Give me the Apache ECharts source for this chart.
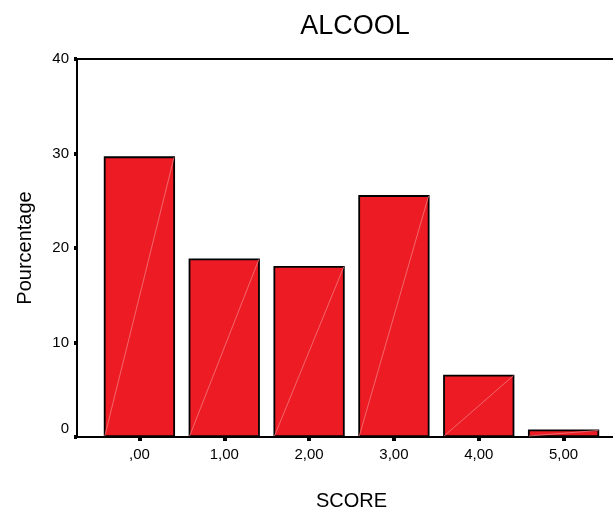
<!DOCTYPE html>
<html>
<head>
<meta charset="utf-8">
<script src="https://cdn.jsdelivr.net/npm/echarts@6/dist/echarts.min.js"></script>
<style>html,body{margin:0;padding:0;background:#fff}#c{width:613px;height:512px}</style>
</head>
<body>
<div id="c"></div>
<script>
var categories = [',00', '1,00', '2,00', '3,00', '4,00', '5,00'];
var values = [29.7, 18.9, 18.1, 25.6, 6.6, 0.8];
var yTicks = [0, 10, 20, 30, 40];
var titleText = 'ALCOOL';
var xName = 'SCORE';
var yName = 'Pourcentage';

var FONT = 'Liberation Sans, Arial, sans-serif';
var BAR_FRAC = 0.84;
var chart = echarts.init(document.getElementById('c'));
chart.setOption({
  animation: false,
  backgroundColor: '#fff',
  title: {
    text: titleText, left: 350, top: 8, textAlign: 'center',
    textStyle: {fontFamily: FONT, fontWeight: 'normal', fontSize: 27, color: '#000'}
  },
  grid: [
    {left: 97, right: 7, top: 59, bottom: 75, outerBoundsMode: 'none', containLabel: false},
    {left: 77, right: -3, top: 59, bottom: 75, outerBoundsMode: 'none', containLabel: false,
     show: true, borderColor: '#000', borderWidth: 2, backgroundColor: 'transparent'}
  ],
  xAxis: [{
    type: 'category', data: categories, gridIndex: 0,
    name: xName, nameLocation: 'middle', nameGap: 54,
    nameTextStyle: {fontFamily: FONT, fontSize: 20, color: '#000'},
    axisLine: {show: false},
    axisTick: {show: true, alignWithLabel: true, length: 4, lineStyle: {width: 4, color: '#000'}},
    axisLabel: {fontFamily: FONT, fontSize: 15, color: '#000', margin: 10}
  }, {
    type: 'value', gridIndex: 1, show: false
  }],
  yAxis: [{
    type: 'value', gridIndex: 0, min: 0, max: 40, interval: 10, offset: 20,
    name: yName, nameLocation: 'middle', nameGap: 42,
    nameTextStyle: {fontFamily: FONT, fontSize: 20, color: '#000'},
    axisLine: {show: false},
    axisTick: {show: true, length: 3, lineStyle: {width: 4, color: '#000'}},
    axisLabel: {fontFamily: FONT, fontSize: 15, color: '#000', margin: 8,
      formatter: function (v) {
        if (yTicks.indexOf(v) < 0) return '';
        return v === 0 ? '{z|0}' : String(v);
      },
      rich: {z: {fontFamily: FONT, fontSize: 15, color: '#000', padding: [0, 0, 16, 0]}}},
    splitLine: {show: false}
  }, {
    type: 'value', gridIndex: 1, show: false
  }],
  series: [{
    type: 'bar', data: values, xAxisIndex: 0, yAxisIndex: 0,
    barWidth: (BAR_FRAC * 100) + '%',
    itemStyle: {color: '#ED1C24', borderColor: '#000', borderWidth: 1.8},
    z: 2
  }, {
    type: 'custom', xAxisIndex: 0, yAxisIndex: 0, z: 3,
    data: values.map(function (v, i) { return [i, v]; }),
    renderItem: function (params, api) {
      var i = api.value(0), v = api.value(1);
      var p0 = api.coord([i, 0]);
      var p1 = api.coord([i, v]);
      var bw = api.size([1, 0])[0] * BAR_FRAC - 2;
      return {
        type: 'line',
        shape: {x1: p0[0] - bw / 2, y1: p0[1] - 1, x2: p0[0] + bw / 2, y2: p1[1] + 1},
        style: {stroke: '#F2787C', lineWidth: 0.8}
      };
    }
  }]
});
</script>
</body>
</html>
